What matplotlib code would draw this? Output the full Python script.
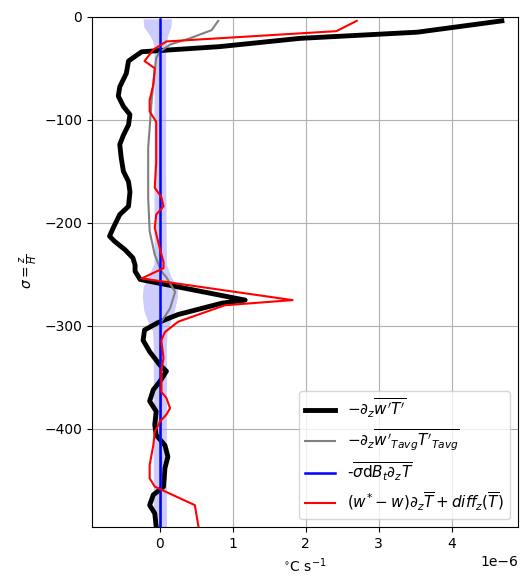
import matplotlib
matplotlib.use("Agg")
import matplotlib.pyplot as plt
import numpy as np

# total eddy heat-flux divergence (1e-6 degC/s)
black_y = [-4, -15, -21, -29, -34, -43, -55, -68, -77, -87, -95, -105, -115, -124,
           -137, -150, -160, -170, -184, -192, -205, -213, -218, -226, -234, -241,
           -247, -255, -275, -278, -289, -297, -304, -314, -325, -338, -344, -354,
           -362, -373, -383, -396, -406, -416, -427, -438, -456, -459, -464, -474,
           -482, -495]
black_x = [4.69, 3.53, 1.92, 0.82, -0.25, -0.43, -0.46, -0.55, -0.57, -0.50, -0.41,
           -0.43, -0.50, -0.55, -0.53, -0.50, -0.43, -0.41, -0.43, -0.55, -0.64, -0.69,
           -0.62, -0.48, -0.37, -0.34, -0.34, -0.27, 1.17, 0.85, 0.25, -0.03, -0.21,
           -0.23, -0.14, 0.00, 0.09, 0.00, -0.09, -0.14, -0.05, -0.07, -0.05, 0.07,
           0.11, 0.07, 0.05, 0.00, -0.09, -0.14, -0.07, -0.05]

# flux divergence from time-averaged fields
gray_y = [-4, -13, -21, -27, -34, -40, -79, -127, -176, -208, -231, -247, -253, -267,
          -283, -296, -320, -360, -400, -440, -480, -495]
gray_x = [0.80, 0.71, 0.41, 0.14, 0.00, -0.05, -0.11, -0.16, -0.16, -0.14, -0.07, 0.02,
          0.09, 0.21, 0.14, 0.02, 0.01, 0.02, 0.01, 0.02, 0.01, 0.01]

# stochastic term, mean and spread
blue_y = [-2, -495]
blue_x = [0.0, 0.0]
band_y = [-2, -10, -18, -25, -35, -60, -150, -240, -252, -262, -272, -285, -297,
          -305, -320, -400, -495]
band_lo = [-0.23, -0.22, -0.14, -0.09, -0.08, -0.08, -0.08, -0.08, -0.16, -0.23,
           -0.24, -0.22, -0.16, -0.10, -0.09, -0.09, -0.09]
band_hi = [0.16, 0.15, 0.11, 0.09, 0.08, 0.08, 0.08, 0.09, 0.15, 0.24, 0.24, 0.20,
           0.14, 0.10, 0.09, 0.09, 0.09]

# residual mean advection + diffusion
red_y = [-4, -14, -24, -32, -43, -50, -66, -81, -92, -102, -115, -141, -166, -175,
         -184, -192, -205, -225, -238, -244, -254, -275, -280, -296, -306, -314,
         -331, -344, -364, -370, -380, -386, -393, -403, -416, -435, -448, -456,
         -459, -474, -495]
red_x = [2.70, 2.42, 0.09, -0.09, -0.21, -0.07, -0.09, -0.14, -0.14, -0.05, -0.05,
         -0.05, -0.07, 0.02, 0.05, -0.05, -0.07, 0.00, 0.05, 0.05, -0.25, 1.82, 0.89,
         0.25, 0.07, 0.02, 0.05, 0.02, 0.02, 0.09, 0.14, 0.09, 0.00, -0.07, -0.09,
         -0.14, -0.14, -0.07, 0.02, 0.48, 0.53]

scale = 1e-6

fig = plt.figure(figsize=(5.2, 5.77), dpi=100)
ax = fig.add_axes([0.177, 0.087, 0.819, 0.884])

ax.fill_betweenx(band_y, np.array(band_lo) * scale, np.array(band_hi) * scale,
                 color="blue", alpha=0.2, linewidth=0)
ax.plot(np.array(black_x) * scale, black_y, color="black", linewidth=3.5,
        label=r"$-\partial_z\overline{w'T'}$")
ax.plot(np.array(gray_x) * scale, gray_y, color="gray", linewidth=1.5,
        label=r"$-\partial_z\overline{w'{}_{Tavg}T'{}_{Tavg}}$")
ax.plot(np.array(blue_x) * scale, blue_y, color="blue", linewidth=1.8,
        label=r"-$\overline{\sigma \mathrm{d}B_t\partial_z T}$")
ax.plot(np.array(red_x) * scale, red_y, color="red", linewidth=1.5,
        label=r"$(w^{*}-w)\partial_z\overline{T} + diff_z(\overline{T})$")

ax.set_xlim(-0.93e-6, 4.91e-6)
ax.set_ylim(-495, 0)
ax.grid(True)
ax.set_xlabel(r"$^{\circ}$C s$^{-1}$")
ax.set_ylabel(r"$\sigma=\frac{z}{H}$")
ax.legend(loc="lower right", fontsize=11)

fig.savefig("out.png", dpi=100)
